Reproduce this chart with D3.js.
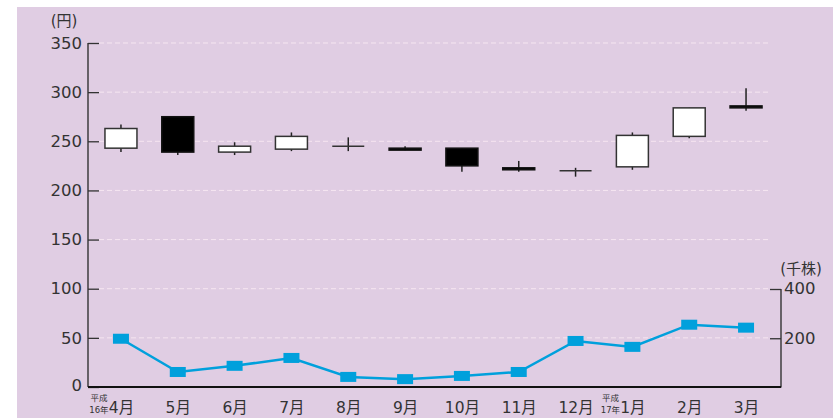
<!DOCTYPE html>
<html>
<head>
<meta charset="utf-8">
<script src="https://cdn.jsdelivr.net/npm/d3@7"></script>
<style>
  html, body { margin: 0; padding: 0; background: #ffffff; }
  svg { display: block; }
  text { font-family: "DejaVu Sans", "Noto Sans CJK JP", sans-serif; fill: #333333; }
</style>
</head>
<body>
<svg id="chart" width="833" height="418"></svg>
<script>
// Monthly stock price (yen) as candlesticks, with traded volume (thousand shares) as a line
const months = ["4月", "5月", "6月", "7月", "8月", "9月", "10月", "11月", "12月", "1月", "2月", "3月"];
const openPrice  = [243, 275, 239, 242, 245, 243, 243, 223, 220, 224, 255, 286];
const closePrice = [263, 239, 245, 255, 245, 241, 225, 221, 220, 256, 284, 284];
const highPrice  = [267, 275, 249, 259, 254, 245, 243, 230, 223, 259, 284, 304];
const lowPrice   = [239, 236, 236, 240, 240, 241, 219, 219, 214, 221, 253, 281];
const volume     = [198, 63, 88, 120, 43, 34, 47, 63, 189, 165, 255, 243];
const priceTicks = [0, 50, 100, 150, 200, 250, 300, 350];
const volumeTicks = [200, 400];

const svg = d3.select("#chart");

// panel background
svg.append("rect").attr("x", 17).attr("y", 7).attr("width", 816).attr("height", 411).attr("fill", "#e0cde3");

const x = d3.scalePoint().domain(months).range([88, 779]).padding(0.58);
const yPrice = d3.scaleLinear().domain([0, 350]).range([387, 43]);
const yVol = d3.scaleLinear().domain([0, 400]).range([387.5, 289]);

const axisColor = "#333333";

// dashed gridlines
svg.append("g").selectAll("line").data(priceTicks.filter(d => d > 0)).join("line")
  .attr("x1", 99).attr("x2", 770)
  .attr("y1", d => yPrice(d)).attr("y2", d => yPrice(d))
  .attr("stroke", "#f6e6f1").attr("stroke-width", 1).attr("stroke-dasharray", "5,3");

// left price axis
const leftAxis = svg.append("g").attr("transform", "translate(88,0)")
  .call(d3.axisRight(yPrice).tickValues(priceTicks).tickSize(11).tickFormat(d3.format("d")));
leftAxis.select(".domain").remove();
leftAxis.selectAll(".tick line").attr("stroke", axisColor).attr("stroke-width", 1.3);
leftAxis.selectAll(".tick text")
  .attr("x", -6).attr("text-anchor", "end").attr("font-size", 16.5).attr("fill", axisColor)
  .attr("dy", d => d === 0 ? "0.2em" : "0.32em");
svg.append("line").attr("x1", 88).attr("x2", 88).attr("y1", yPrice(350)).attr("y2", yPrice(0))
  .attr("stroke", axisColor).attr("stroke-width", 1.4);
svg.append("text").attr("x", 64).attr("y", 26).attr("text-anchor", "middle").attr("font-size", 15).text("(円)");

// right volume axis
const rightAxis = svg.append("g").attr("transform", "translate(781,0)")
  .call(d3.axisLeft(yVol).tickValues(volumeTicks).tickSize(11).tickFormat(d3.format("d")));
rightAxis.select(".domain").remove();
rightAxis.selectAll(".tick line").attr("stroke", axisColor).attr("stroke-width", 1.3);
rightAxis.selectAll(".tick text")
  .attr("x", 3).attr("text-anchor", "start").attr("font-size", 16.5).attr("fill", axisColor).attr("dy", "0.3em");
svg.append("line").attr("x1", 781).attr("x2", 781).attr("y1", yVol(400)).attr("y2", yVol(0))
  .attr("stroke", axisColor).attr("stroke-width", 1.4);
svg.append("text").attr("x", 801).attr("y", 274).attr("text-anchor", "middle").attr("font-size", 15).text("(千株)");

// baseline
svg.append("line").attr("x1", 88).attr("x2", 781).attr("y1", 387).attr("y2", 387)
  .attr("stroke", "#111111").attr("stroke-width", 2);

// month labels
const xAxis = svg.append("g").attr("transform", "translate(0,387)")
  .call(d3.axisBottom(x).tickSize(0).tickPadding(0));
xAxis.select(".domain").remove();
xAxis.selectAll(".tick text").attr("y", 26).attr("dy", 0).attr("font-size", 15.5).attr("fill", axisColor);

// era-year markers beside April and January
function eraLabel(month, year) {
  const g = svg.append("g").attr("transform", `translate(${x(month) - 22},0)`);
  g.append("text").attr("x", 0).attr("y", 401).attr("text-anchor", "middle")
    .attr("font-size", 8.5).attr("fill", axisColor).text("平成");
  g.append("text").attr("x", 0).attr("y", 413).attr("text-anchor", "middle")
    .attr("font-size", 8.5).attr("fill", axisColor).text(year + "年");
}
eraLabel("4月", 16);
eraLabel("1月", 17);

// candlesticks
const candles = months.map((m, i) => ({
  m, open: openPrice[i], close: closePrice[i], high: highPrice[i], low: lowPrice[i]
}));
const bodyW = 32;
const cg = svg.append("g");
cg.selectAll("line.wick").data(candles).join("line").attr("class", "wick")
  .attr("x1", d => x(d.m)).attr("x2", d => x(d.m))
  .attr("y1", d => yPrice(d.high)).attr("y2", d => yPrice(d.low))
  .attr("stroke", "#222222").attr("stroke-width", 1.5);
cg.selectAll("rect.body").data(candles.filter(d => d.open !== d.close)).join("rect").attr("class", "body")
  .attr("x", d => x(d.m) - bodyW / 2).attr("width", bodyW)
  .attr("y", d => yPrice(Math.max(d.open, d.close)))
  .attr("height", d => Math.abs(yPrice(d.open) - yPrice(d.close)))
  .attr("fill", d => d.close > d.open ? "#ffffff" : "#000000")
  .attr("stroke", d => d.close > d.open ? "#333333" : "#111111").attr("stroke-width", 1.5);
cg.selectAll("line.doji").data(candles.filter(d => d.open === d.close)).join("line").attr("class", "doji")
  .attr("x1", d => x(d.m) - bodyW / 2).attr("x2", d => x(d.m) + bodyW / 2)
  .attr("y1", d => yPrice(d.open)).attr("y2", d => yPrice(d.open))
  .attr("stroke", "#333333").attr("stroke-width", 1.5);

// volume line with rectangular markers
const volColor = "#00a0dc";
svg.append("path").datum(months.map((m, i) => [m, volume[i]]))
  .attr("fill", "none").attr("stroke", volColor).attr("stroke-width", 2.5)
  .attr("d", d3.line().x(d => x(d[0])).y(d => yVol(d[1])));
svg.append("g").selectAll("rect").data(months.map((m, i) => [m, volume[i]])).join("rect")
  .attr("x", d => x(d[0]) - 8).attr("y", d => yVol(d[1]) - 5)
  .attr("width", 16).attr("height", 10).attr("fill", volColor);
</script>
</body>
</html>
